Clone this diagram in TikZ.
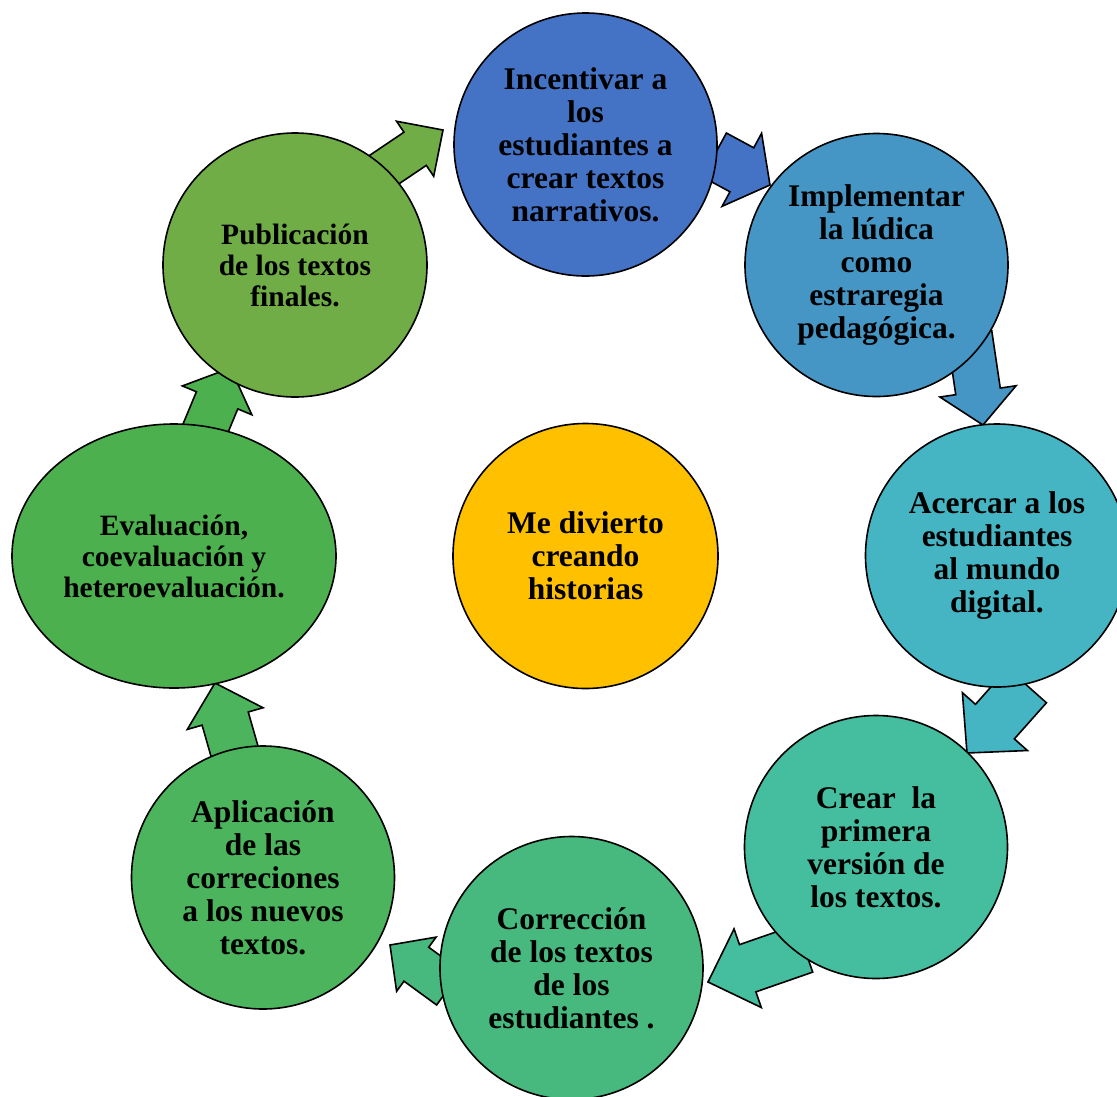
\documentclass[tikz,border=0pt]{standalone}
\usepackage{fontspec}
\setmainfont{Liberation Serif}
\usetikzlibrary{calc,shapes.geometric}
\definecolor{cA}{HTML}{4472C4}
\definecolor{cB}{HTML}{4596C5}
\definecolor{cC}{HTML}{45B5C4}
\definecolor{cD}{HTML}{45BD9F}
\definecolor{cE}{HTML}{47B97E}
\definecolor{cF}{HTML}{4BB45D}
\definecolor{cG}{HTML}{4DB04E}
\definecolor{cH}{HTML}{70AD47}
\definecolor{cM}{HTML}{FFC000}
\newcommand\blockarr[8]{%
  \coordinate (#7) at #2; \coordinate (#8) at #3;
  \coordinate (#7h) at ($(#8)!#6pt!(#7)$);
  \filldraw[barrow, fill=#1]
    ($(#7)!#4pt!90:(#8)$) -- ($(#7h)!#4pt!-90:(#7)$) -- ($(#7h)!#5pt!-90:(#7)$)
    -- (#8) -- ($(#7h)!#5pt!90:(#7)$) -- ($(#7h)!#4pt!90:(#7)$)
    -- ($(#7)!#4pt!-90:(#8)$) -- cycle;}
\begin{document}
\begin{tikzpicture}[x=1pt,y=-1pt,
  barrow/.style={draw=black, line width=1.6pt, line join=miter},
  stage/.style={circle, draw=black, line width=1.6pt, inner sep=0pt, minimum size=263pt,
    align=center, font=\fontsize{31.5}{33}\selectfont\bfseries},
  stagesm/.style={stage, font=\fontsize{29.5}{31}\selectfont\bfseries}]
\useasboundingbox (0,0) rectangle (1117,1096);
% block arrows (under circles)
\blockarr{cA}{(714.5,155)}{(770,185)}{25}{41.5}{32}{t1}{p1}
\blockarr{cB}{(969.5,334)}{(983,425)}{22.5}{38.5}{34}{t2}{p2}
\blockarr{cC}{(1027,685.5)}{(967,753)}{26}{43.5}{42}{t3}{p3}
\blockarr{cD}{(804.5,948.5)}{(708,982)}{25}{41.6}{42}{t4}{p4}
\blockarr{cE}{(449,988)}{(390,945)}{21}{33.5}{32.6}{t5}{p5}
\blockarr{cF}{(241.8,776.7)}{(215,683)}{24}{39.4}{37}{t6}{p6}
\blockarr{cG}{(194,456)}{(230.5,368)}{22.4}{37.6}{35}{t7}{p7}
\blockarr{cH}{(365,182.6)}{(443,130)}{20}{33.2}{33.6}{t8}{p8}
% stages
\node[stage, fill=cA] (n1) at (585.5,144.5) {Incentivar a\\los\\estudiantes a\\crear textos\\narrativos.};
\node[stage, fill=cB] (n2) at (876.5,265) {Implementar\\la lúdica\\como\\estraregia\\pedagógica.};
\node[stage, fill=cC] (n3) at (997,555.5) {Acercar a los\\estudiantes\\al mundo\\digital.};
\node[stage, fill=cD] (n4) at (876,847) {Crear\ \ la\\primera\\versión de\\los textos.};
\node[stage, fill=cE] (n5) at (571.5,968) {Corrección\\de los textos\\de los\\estudiantes .};
\node[stage, fill=cF] (n6) at (263,877.5) {Aplicación\\de las\\correciones\\a los nuevos\\textos.};
\node[stagesm, ellipse, fill=cG, minimum width=324pt, minimum height=264pt] (n7) at (174,556) {Evaluación,\\coevaluación y\\heteroevaluación.};
\node[stagesm, fill=cH, minimum size=264pt] (n8) at (295,265) {Publicación\\de los textos\\finales.};
\node[stage, fill=cM, minimum size=265pt] (c) at (585.5,556) {Me divierto\\creando\\historias};
\end{tikzpicture}
\end{document}
